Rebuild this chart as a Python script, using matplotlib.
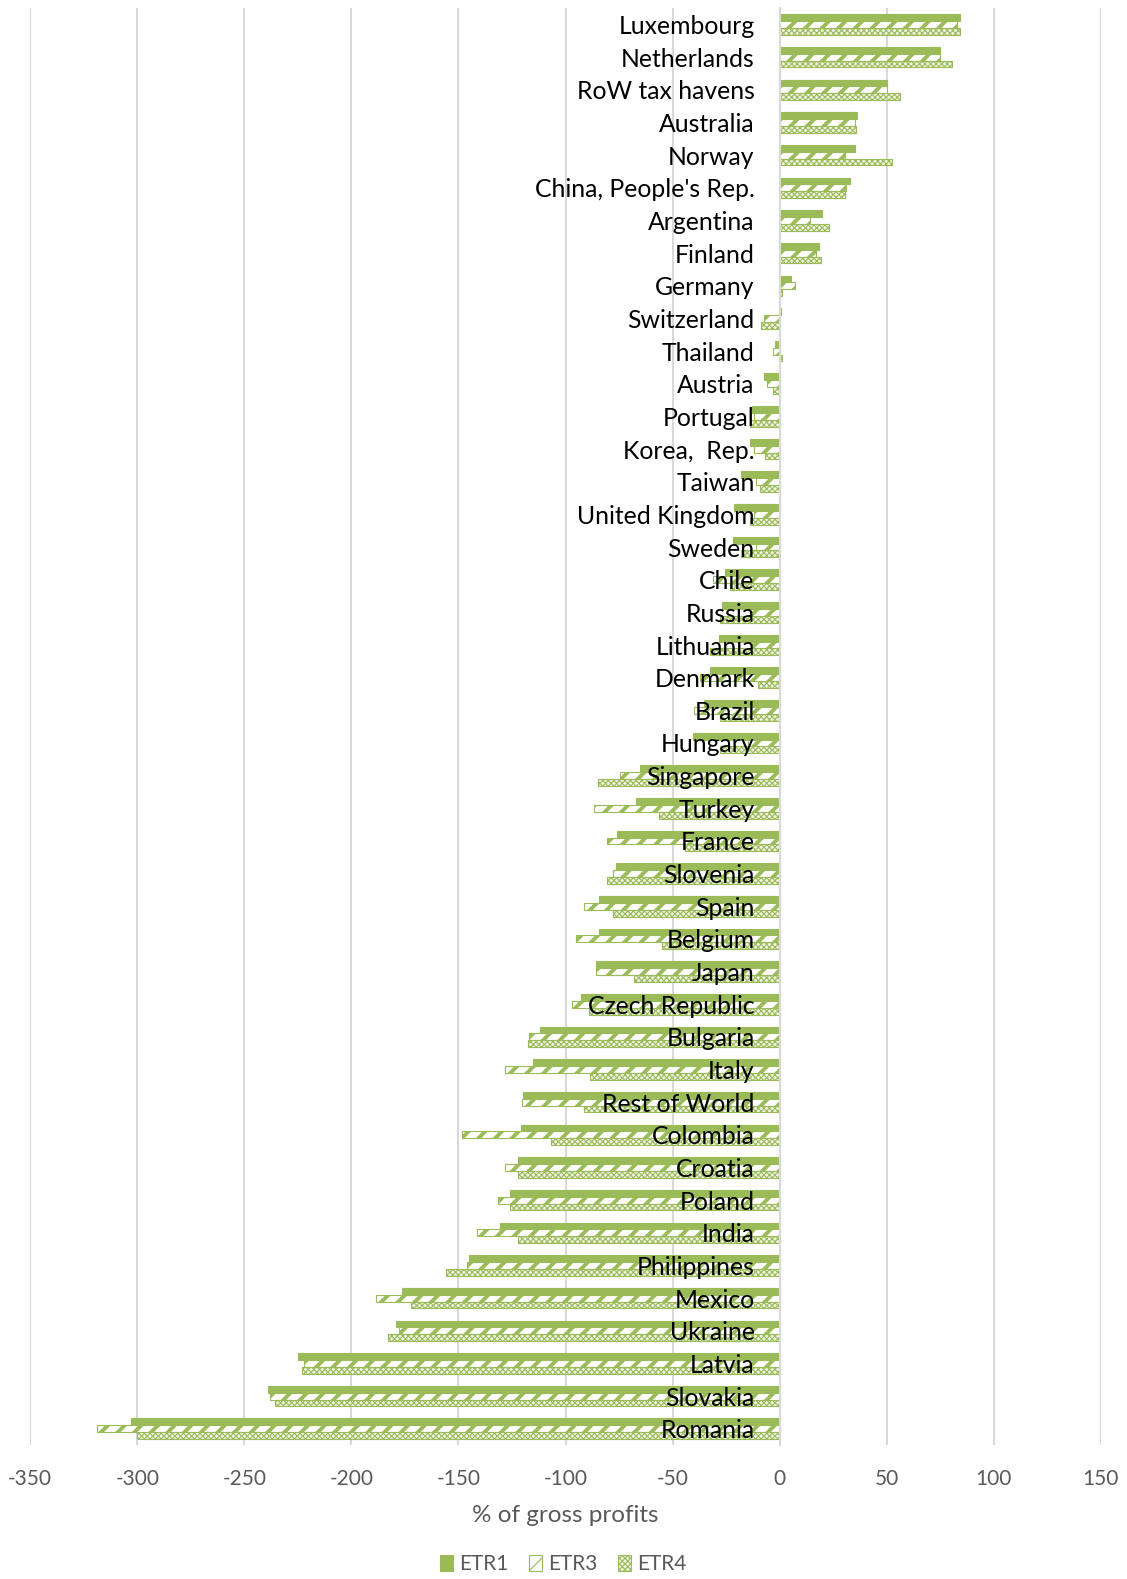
import numpy as np
import matplotlib
matplotlib.use("Agg")
import matplotlib.pyplot as plt
from matplotlib.transforms import offset_copy

# Negara / kategori (dari atas ke bawah)
countries = ["Luxembourg", "Netherlands", "RoW tax havens", "Australia", "Norway",
             "China, People's Rep.", "Argentina", "Finland", "Germany", "Switzerland",
             "Thailand", "Austria", "Portugal", "Korea,  Rep.", "Taiwan",
             "United Kingdom", "Sweden", "Chile", "Russia", "Lithuania",
             "Denmark", "Brazil", "Hungary", "Singapore", "Turkey",
             "France", "Slovenia", "Spain", "Belgium", "Japan",
             "Czech Republic", "Bulgaria", "Italy", "Rest of World", "Colombia",
             "Croatia", "Poland", "India", "Philippines", "Mexico",
             "Ukraine", "Latvia", "Slovakia", "Romania"]

etr1 = [84, 75, 50, 36, 35, 33, 20, 18.5, 5.5, 0.8,
        -2, -7.5, -13, -14, -18, -21.5, -22, -25.5, -27, -28.5,
        -32.5, -35.5, -40.5, -65, -67, -76, -76.5, -84.5, -84.5, -86,
        -93, -112, -115, -120, -121, -122, -126, -130.5, -145, -176.5,
        -179, -225, -239, -303]
etr3 = [83, 75, 50, 35, 30.5, 31, 14, 17, 7, -7.3,
        -3, -6, -12, -12, -11, -12, -11, -31, -14, -13,
        -37, -40, -15, -74.5, -86.5, -80.5, -78, -91.5, -95, -86,
        -97, -117, -128.5, -120.5, -148.5, -128.5, -131.5, -141.5, -146, -188.5,
        -178, -222, -238, -319]
etr4 = [84, 80.5, 56, 35.5, 52.5, 30.5, 23, 19.5, 1.3, -8.9,
        1, -3, -14, -7, -9, -14, -18, -23, -28, -32.5,
        -10, -28, -28, -85, -56.5, -44, -80.5, -78, -55, -68,
        -89, -117.5, -88.5, -91.5, -107, -122, -126, -122, -156, -172,
        -183, -223, -235.5, -300]

hijau = "#9BBB59"
abu = "#595959"

plt.rcParams["font.family"] = ["Lato", "DejaVu Sans"]
plt.rcParams["axes.unicode_minus"] = False

fig = plt.figure(figsize=(11.27, 15.79), dpi=100)
ax = fig.add_axes([0.0268, 0.0848, 0.95, 0.910])

y = np.arange(len(countries))
h = 0.21

plt.rcParams["hatch.linewidth"] = 2.8
ax.barh(y - h, etr1, height=h, color=hijau, edgecolor=hijau, linewidth=0.8, label="ETR1", zorder=2)
ax.barh(y, etr3, height=h, color="white", edgecolor=hijau, hatch="//", linewidth=0.8, label="ETR3", zorder=2)
plt.rcParams["hatch.linewidth"] = 0.8
ax.barh(y + h, etr4, height=h, color="#EEF3E3", edgecolor=hijau, hatch="xxxxxx", linewidth=0.8, label="ETR4", zorder=2)

ax.set_xlim(-350, 150)
ax.set_ylim(len(countries) - 0.5, -0.5)
ax.set_xticks(np.arange(-350, 151, 50))
ax.tick_params(axis="x", length=0, labelsize=15, labelcolor=abu, pad=17)
ax.grid(axis="x", color="#D9D9D9", linewidth=1.5, zorder=0)
ax.set_axisbelow(True)

for s in ["top", "right", "bottom"]:
    ax.spines[s].set_visible(False)
ax.spines["left"].set_position(("data", 0))
ax.spines["left"].set_color("#D9D9D9")
ax.spines["left"].set_linewidth(1.5)
ax.set_yticks([])

# label negara di atas batang, rata kanan dekat sumbu nol
trans = offset_copy(ax.transData, fig=fig, x=-25, y=-2, units="dots")
for i, nama in enumerate(countries):
    ax.text(0, i, nama, transform=trans, ha="right", va="center",
            fontsize=17.8, color="black", zorder=10)

ax.set_xlabel("% of gross profits", fontsize=17.5, color=abu, labelpad=12)

fig.legend(loc="lower center", bbox_to_anchor=(0.5, -0.009), ncol=3, frameon=False,
           fontsize=15, labelcolor=abu, handlelength=0.6, handleheight=0.8,
           handletextpad=0.3, columnspacing=1.0)

fig.savefig("out.png", dpi=100)
